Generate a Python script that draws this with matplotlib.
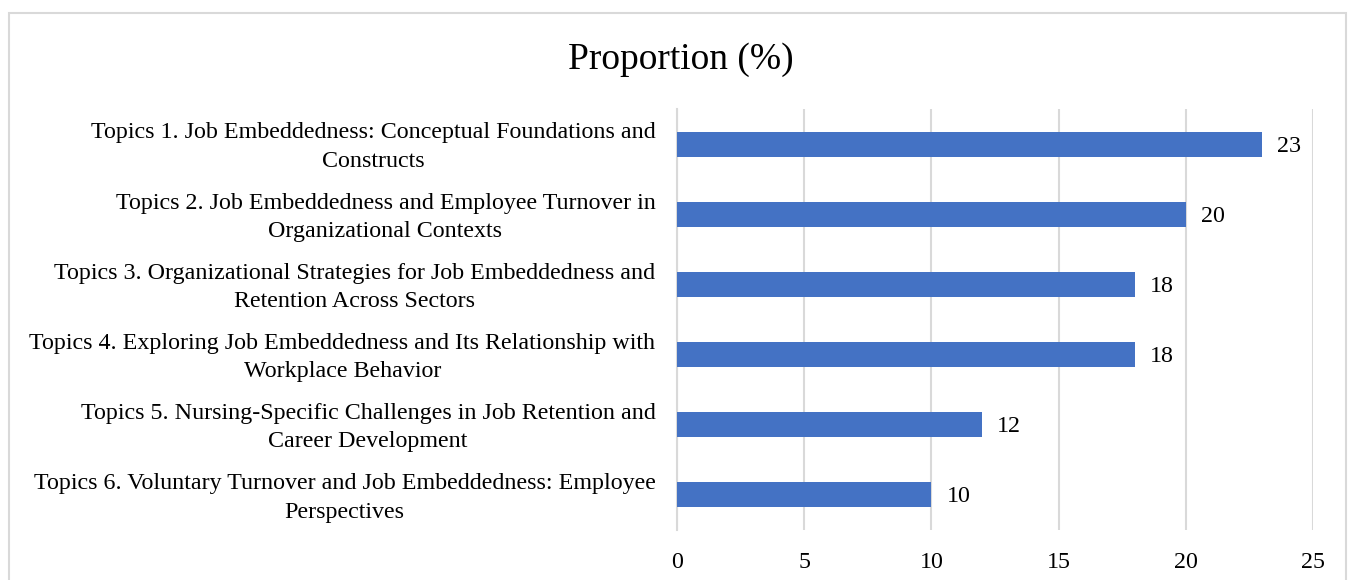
import matplotlib.pyplot as plt
from matplotlib.patches import Rectangle
from matplotlib.transforms import ScaledTranslation

# data
topics = [
    "Topics 1. Job Embeddedness: Conceptual Foundations and\nConstructs",
    "Topics 2. Job Embeddedness and Employee Turnover in\nOrganizational Contexts",
    "Topics 3. Organizational Strategies for Job Embeddedness and\nRetention Across Sectors",
    "Topics 4. Exploring Job Embeddedness and Its Relationship with\nWorkplace Behavior",
    "Topics 5. Nursing-Specific Challenges in Job Retention and\nCareer Development",
    "Topics 6. Voluntary Turnover and Job Embeddedness: Employee\nPerspectives",
]
proportions = [23, 20, 18, 18, 12, 10]
xticks = [0, 5, 10, 15, 20, 25]

plt.rcParams['font.family'] = ['Liberation Serif', 'DejaVu Serif']

fig = plt.figure(figsize=(13.58, 5.80), dpi=100)
ax = fig.add_axes([0.4985, 0.0862, 0.9669 - 0.4985, 0.8121 - 0.0862])

# outer chart border like the Excel chart frame
fig.patches.append(Rectangle((9 / 1358, -0.05), (1346 - 9) / 1358, 1.05 - 13 / 580,
                             transform=fig.transFigure, fill=False,
                             edgecolor='#d9d9d9', linewidth=1.5, clip_on=False))

ypos = list(range(len(topics)))
ax.barh(ypos, proportions, height=0.355, color='#4472C4', zorder=3)
ax.set_ylim(len(topics) - 0.5, -0.5)
ax.set_xlim(0, 25)

# value labels to the right of each bar
for y, v in zip(ypos, proportions):
    ax.annotate(str(v), (v, y), xytext=(15, -2), textcoords='offset pixels',
                ha='left', va='center', fontsize=17.3, color='#000000')

ax.set_yticks(ypos)
ax.set_yticklabels(topics, fontsize=17.3)
ax.set_xticks(xticks)
ax.set_xticklabels([str(t) for t in xticks], fontsize=17.3)
ax.tick_params(axis='both', length=0)
ax.tick_params(axis='y', pad=15.5)
ax.tick_params(axis='x', pad=16)

# centred two-line labels, nudged down a little
shift = ScaledTranslation(0, -3 / 100, fig.dpi_scale_trans)
for lbl in ax.get_yticklabels():
    lbl.set_multialignment('center')
    lbl.set_linespacing(1.45)
    lbl.set_verticalalignment('center')
    lbl.set_transform(lbl.get_transform() + shift)

ax.grid(axis='x', color='#d9d9d9', linewidth=1.5, zorder=0)
ax.set_axisbelow(True)
for side in ['top', 'right', 'bottom']:
    ax.spines[side].set_visible(False)
ax.spines['left'].set_color('#d9d9d9')
ax.spines['left'].set_linewidth(1.5)

fig.text(0.5015, 0.897, "Proportion (%)", ha='center', va='center', fontsize=27)

plt.savefig("out.png", dpi=100)
